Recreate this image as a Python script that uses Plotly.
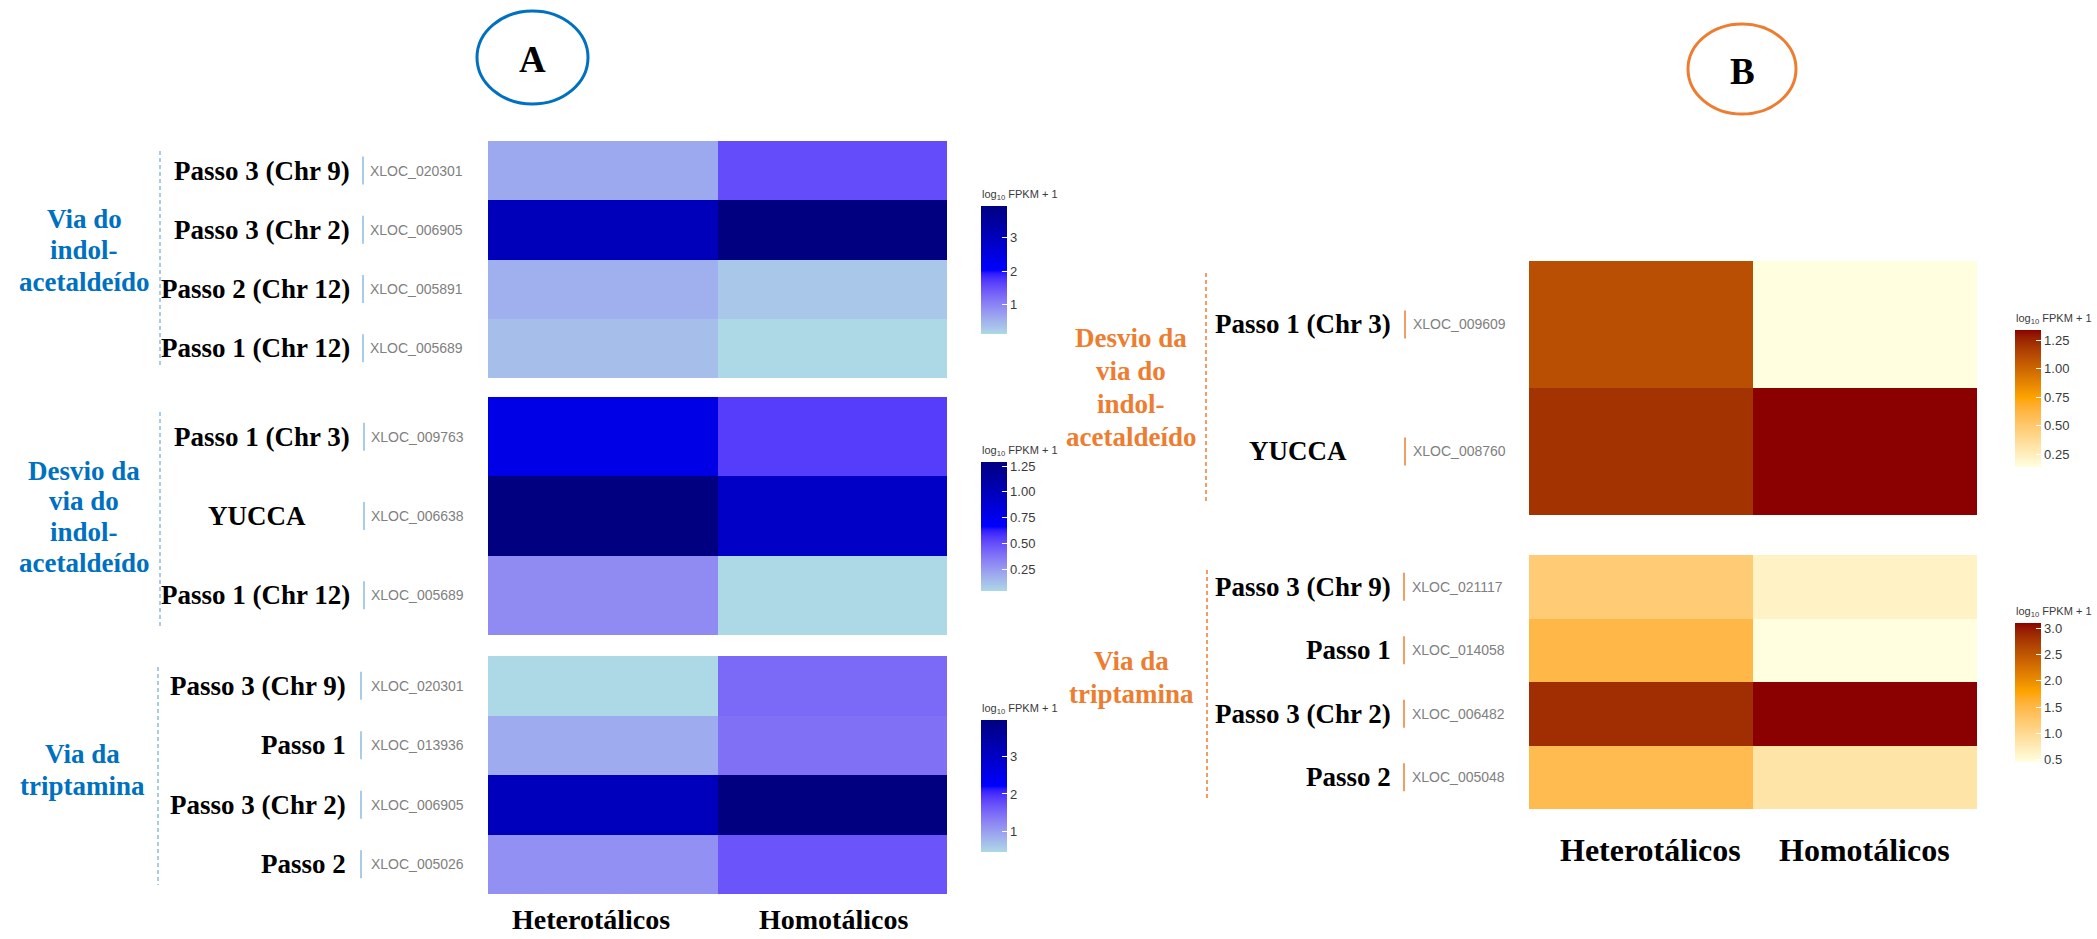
import numpy as np
import plotly.graph_objects as go

W, H = 2097, 939

COLUMNS = ["Heterotálicos", "Homotálicos"]
CB_TITLE = "log<sub>10</sub> FPKM + 1"

# ---- Painel A -------------------------------------------------------------
A1_GROUP = ["Via do", "indol-", "acetaldeído"]
A1_STEPS = ["Passo 3 (Chr 9)", "Passo 3 (Chr 2)", "Passo 2 (Chr 12)", "Passo 1 (Chr 12)"]
A1_IDS = ["XLOC_020301", "XLOC_006905", "XLOC_005891", "XLOC_005689"]
A1_HET = [0.62, 3.05, 0.55, 0.38]
A1_HOM = [1.55, 3.95, 0.30, 0.13]
A1_TICKS = [1, 2, 3]

A2_GROUP = ["Desvio da", "via do", "indol-", "acetaldeído"]
A2_STEPS = ["Passo 1 (Chr 3)", "YUCCA", "Passo 1 (Chr 12)"]
A2_IDS = ["XLOC_009763", "XLOC_006638", "XLOC_005689"]
A2_HET = [0.78, 1.29, 0.30]
A2_HOM = [0.55, 0.93, 0.04]
A2_TICKS = [0.25, 0.50, 0.75, 1.00, 1.25]

A3_GROUP = ["Via da", "triptamina"]
A3_STEPS = ["Passo 3 (Chr 9)", "Passo 1", "Passo 3 (Chr 2)", "Passo 2"]
A3_IDS = ["XLOC_020301", "XLOC_013936", "XLOC_006905", "XLOC_005026"]
A3_HET = [0.47, 0.90, 3.10, 1.15]
A3_HOM = [1.50, 1.45, 3.95, 1.70]
A3_TICKS = [1, 2, 3]

# ---- Painel B -------------------------------------------------------------
B1_GROUP = ["Desvio da", "via do", "indol-", "acetaldeído"]
B1_STEPS = ["Passo 1 (Chr 3)", "YUCCA"]
B1_IDS = ["XLOC_009609", "XLOC_008760"]
B1_HET = [1.10, 1.21]
B1_HOM = [0.14, 1.34]
B1_TICKS = [0.25, 0.50, 0.75, 1.00, 1.25]

B2_GROUP = ["Via da", "triptamina"]
B2_STEPS = ["Passo 3 (Chr 9)", "Passo 1", "Passo 3 (Chr 2)", "Passo 2"]
B2_IDS = ["XLOC_021117", "XLOC_014058", "XLOC_006482", "XLOC_005048"]
B2_HET = [1.20, 1.50, 2.85, 1.45]
B2_HOM = [0.65, 0.46, 3.10, 0.85]
B2_TICKS = [0.5, 1.0, 1.5, 2.0, 2.5, 3.0]

BLUE_RAMP = ["#ADD8E6", "#0000FF", "#000080"]
ORANGE_RAMP = ["#FFFFE0", "#FFA500", "#8B0000"]


# ---- CIELAB gradient -------------------------------------------------------
_M = np.array([[0.4124564, 0.3575761, 0.1804375],
               [0.2126729, 0.7151522, 0.0721750],
               [0.0193339, 0.1191920, 0.9503041]])
_WHITE = np.array([0.95047, 1.0, 1.08883])


def hex_to_lab(h):
    rgb = np.array([int(h[i:i + 2], 16) for i in (1, 3, 5)]) / 255.0
    lin = np.where(rgb <= 0.04045, rgb / 12.92, ((rgb + 0.055) / 1.055) ** 2.4)
    xyz = _M @ lin / _WHITE
    f = np.where(xyz > 0.008856, np.cbrt(xyz), 7.787 * xyz + 16 / 116)
    return np.array([116 * f[1] - 16, 500 * (f[0] - f[1]), 200 * (f[1] - f[2])])


def lab_to_css(lab):
    L, a, b = lab
    fy_ = (L + 16) / 116
    f = np.array([fy_ + a / 500, fy_, fy_ - b / 200])
    xyz = np.where(f ** 3 > 0.008856, f ** 3, (f - 16 / 116) / 7.787) * _WHITE
    lin = np.clip(np.linalg.solve(_M, xyz), 0, 1)
    rgb = np.where(lin <= 0.0031308, 12.92 * lin, 1.055 * lin ** (1 / 2.4) - 0.055)
    r, g, bb = np.round(np.clip(rgb, 0, 1) * 255).astype(int)
    return f"rgb({r},{g},{bb})"


def lab_scale(ramp, n=41):
    labs = [hex_to_lab(c) for c in ramp]
    seg = len(labs) - 1
    out = []
    for t in np.linspace(0, 1, n):
        k = min(int(t * seg), seg - 1)
        u = t * seg - k
        out.append([float(t), lab_to_css(labs[k] * (1 - u) + labs[k + 1] * u)])
    return out


BLUE_SCALE = lab_scale(BLUE_RAMP)
ORANGE_SCALE = lab_scale(ORANGE_RAMP)

BLUE_TXT = "#0070C0"
BLUE_LINE = "#8DBBE3"
ORANGE_TXT = "#ED7D31"
ORANGE_LINE = "#ED7D31"

SERIF = "Liberation Serif"
SANS = "Liberation Sans"


def fx(px):
    return px / W


def fy(py):
    return 1 - py / H


# pixel layout of each block; "cols" = (label centre y, font size, x offsets)
PANELS = [
    dict(group=A1_GROUP, steps=A1_STEPS, ids=A1_IDS, het=A1_HET, hom=A1_HOM, ticks=A1_TICKS, fmt="d",
         box=(488, 141, 947, 378), cb=(981, 206, 334), group_x=84, group_lines=(219, 31.5),
         dash=(160, 151, 368), label_right=352, sep_x=363, id_x=368,
         scale=BLUE_SCALE, txt=BLUE_TXT, line=BLUE_LINE, cols=None),
    dict(group=A2_GROUP, steps=A2_STEPS, ids=A2_IDS, het=A2_HET, hom=A2_HOM, ticks=A2_TICKS, fmt=".2f",
         box=(488, 397, 947, 635), cb=(981, 462, 591), group_x=84, group_lines=(471, 30.5),
         dash=(160, 412, 628), label_right=352, sep_x=364, id_x=369,
         scale=BLUE_SCALE, txt=BLUE_TXT, line=BLUE_LINE, cols=None),
    dict(group=A3_GROUP, steps=A3_STEPS, ids=A3_IDS, het=A3_HET, hom=A3_HOM, ticks=A3_TICKS, fmt="d",
         box=(488, 656, 947, 894), cb=(981, 720, 852), group_x=82, group_lines=(754, 32),
         dash=(158, 667, 885), label_right=348, sep_x=361, id_x=369,
         scale=BLUE_SCALE, txt=BLUE_TXT, line=BLUE_LINE, cols=(919, 28, (-12, 1))),
    dict(group=B1_GROUP, steps=B1_STEPS, ids=B1_IDS, het=B1_HET, hom=B1_HOM, ticks=B1_TICKS, fmt=".2f",
         box=(1529, 261, 1977, 515), cb=(2015, 330, 467), group_x=1131, group_lines=(338, 33),
         dash=(1206, 273, 502), label_right=1393, sep_x=1405, id_x=1411,
         scale=ORANGE_SCALE, txt=ORANGE_TXT, line=ORANGE_LINE, cols=None),
    dict(group=B2_GROUP, steps=B2_STEPS, ids=B2_IDS, het=B2_HET, hom=B2_HOM, ticks=B2_TICKS, fmt=".1f",
         box=(1529, 555, 1977, 809), cb=(2015, 623, 762), group_x=1131, group_lines=(661, 33),
         dash=(1207, 570, 798), label_right=1393, sep_x=1404, id_x=1410,
         scale=ORANGE_SCALE, txt=ORANGE_TXT, line=ORANGE_LINE, cols=(850, 32, (9, -1))),
]

# labels that sit centred in the label column instead of flush right
INDENT = {"YUCCA": 44}

fig = go.Figure()
annotations = []
shapes = []
layout_axes = {}

for k, p in enumerate(PANELS, start=1):
    xa = "x" if k == 1 else f"x{k}"
    ya = "y" if k == 1 else f"y{k}"
    left, top, right, bottom = p["box"]
    z = [[h, m] for h, m in zip(p["het"], p["hom"])]
    cbx, cbt, cbb = p["cb"]
    fig.add_trace(go.Heatmap(
        z=z, x=COLUMNS, y=p["ids"], xaxis=xa, yaxis=ya,
        colorscale=p["scale"],
        colorbar=dict(
            x=fx(cbx), xanchor="left", y=fy((cbt + cbb) / 2), yanchor="middle",
            len=cbb - cbt, lenmode="pixels", thickness=26, thicknessmode="pixels",
            xpad=0, ypad=0, outlinewidth=0,
            ticks="inside", ticklen=5, tickcolor="white", tickwidth=1,
            tickvals=p["ticks"], tickformat=p["fmt"],
            tickfont=dict(family=SANS, size=13, color="#3a3a3a"),
        ),
        hovertemplate="%{y} · %{x}: %{z:.2f}<extra></extra>",
    ))

    xkey = "xaxis" if k == 1 else f"xaxis{k}"
    ykey = "yaxis" if k == 1 else f"yaxis{k}"
    layout_axes[xkey] = dict(domain=[fx(left), fx(right)], anchor=ya, type="category",
                             showgrid=False, zeroline=False, showline=False,
                             showticklabels=False)
    layout_axes[ykey] = dict(domain=[fy(bottom), fy(top)], anchor=xa, type="category",
                             autorange="reversed", showgrid=False, zeroline=False,
                             showline=False, showticklabels=False)

    # column names under the lowest block of each panel
    if p["cols"] is not None:
        cy, csize, shifts = p["cols"]
        for col, dxs in zip(COLUMNS, shifts):
            annotations.append(dict(
                text=f"<b>{col}</b>", x=col, xref=xa, xshift=dxs, y=fy(cy), yref="paper",
                xanchor="center", yanchor="middle", showarrow=False, borderpad=0,
                font=dict(family=SERIF, size=csize, color="black")))

    row_px = (bottom - top) / len(p["ids"])
    half = 14 / row_px
    for i, (step, gid) in enumerate(zip(p["steps"], p["ids"])):
        annotations.append(dict(
            text=f"<b>{step}</b>", x=fx(p["label_right"] - INDENT.get(step, 0)), xref="paper",
            xanchor="right", y=gid, yref=ya, yanchor="middle", showarrow=False,
            font=dict(family=SERIF, size=27, color="black")))
        annotations.append(dict(
            text=gid, x=fx(p["id_x"]), xref="paper", xanchor="left",
            y=gid, yref=ya, yanchor="middle", showarrow=False,
            font=dict(family=SANS, size=14, color="#808080")))
        shapes.append(dict(type="line", xref="paper", yref=ya,
                           x0=fx(p["sep_x"]), x1=fx(p["sep_x"]), y0=i - half, y1=i + half,
                           line=dict(color=p["line"], width=1.5)))

    # pathway name, one line at a time for tighter leading
    first_y, lead = p["group_lines"]
    for j, line in enumerate(p["group"]):
        annotations.append(dict(
            text=f"<b>{line}</b>", x=fx(p["group_x"]), y=fy(first_y + j * lead),
            xref="paper", yref="paper", xanchor="center", yanchor="middle",
            showarrow=False, font=dict(family=SERIF, size=27, color=p["txt"])))
    dx, d0, d1 = p["dash"]
    shapes.append(dict(type="line", xref="paper", yref="paper", x0=fx(dx), x1=fx(dx),
                       y0=fy(d0), y1=fy(d1), line=dict(color=p["line"], width=1.5, dash="4px,3px")))
    annotations.append(dict(
        text=CB_TITLE, x=fx(cbx - 1), y=fy(cbt - 11), xref="paper", yref="paper",
        xanchor="left", yanchor="middle", showarrow=False,
        font=dict(family=SANS, size=11, color="#3a3a3a")))

# panel badges
for letter, (x0, y0, x1, y1), col in [("A", (477, 11, 588, 104), BLUE_TXT),
                                      ("B", (1688, 24, 1796, 114), ORANGE_TXT)]:
    shapes.append(dict(type="circle", xref="paper", yref="paper",
                       x0=fx(x0), x1=fx(x1), y0=fy(y1), y1=fy(y0),
                       line=dict(color=col, width=3)))
    annotations.append(dict(text=f"<b>{letter}</b>", x=fx((x0 + x1) / 2), y=fy((y0 + y1) / 2 + 2),
                            xref="paper", yref="paper", xanchor="center", yanchor="middle",
                            showarrow=False, font=dict(family=SERIF, size=37, color="black")))

fig.update_layout(
    width=W, height=H, autosize=False,
    margin=dict(l=0, r=0, t=0, b=0),
    paper_bgcolor="white", plot_bgcolor="white",
    annotations=annotations, shapes=shapes, showlegend=False,
    **layout_axes,
)

fig.write_html("out.html")
